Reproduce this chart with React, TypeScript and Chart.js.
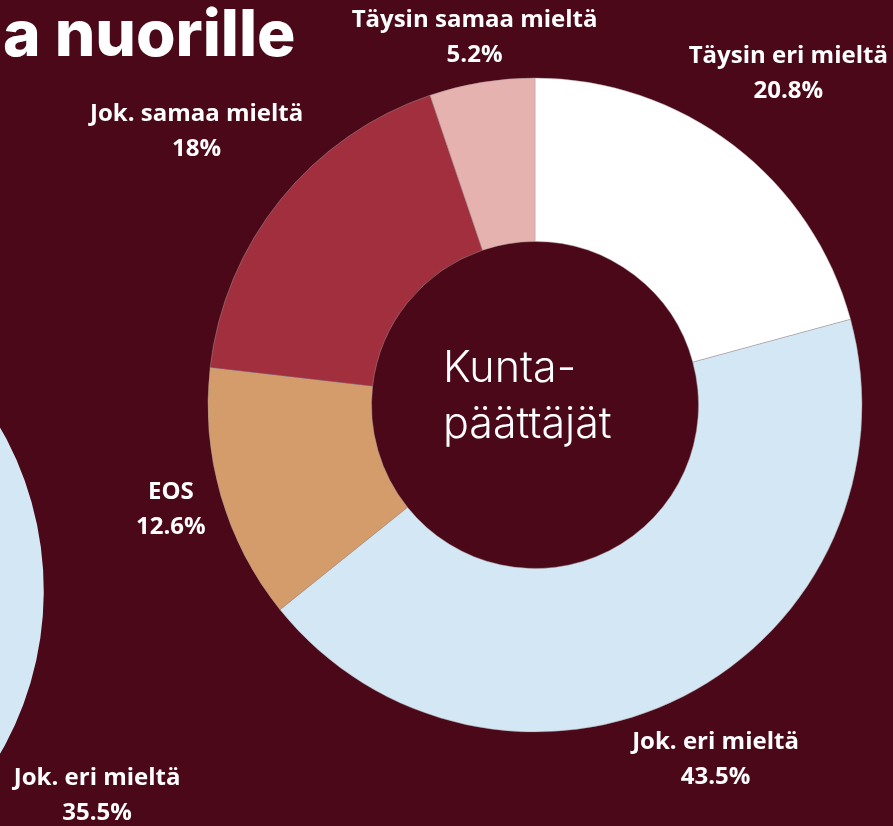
import React, { useEffect, useRef } from 'react';
import { Chart, registerables } from 'chart.js';

Chart.register(...registerables);

// ---- data: main chart (Kuntapäättäjät) ----
const categories = ['Täysin eri mieltä', 'Jok. eri mieltä', 'EOS', 'Jok. samaa mieltä', 'Täysin samaa mieltä'];
const values = [20.8, 43.5, 12.6, 18, 5.2];
const valueLabels = ['20.8%', '43.5%', '12.6%', '18%', '5.2%'];

// ---- data: partially visible chart on the left ----
const leftCategories = ['Jok. eri mieltä'];
const leftValues = [35.5];
const leftValueLabels = ['35.5%'];

// ---- texts ----
const titleText = 'a nuorille';
const centerLines = ['Kunta-', 'päättäjät'];

// ---- styles ----
const BG = '#4a0818';
const colors = ['#ffffff', '#d3e7f4', '#d49c6a', '#a12f3e', '#e5b2af'];
const leftColors = ['#d3e7f4'];
const labelOffsets = [90, 71, 52, 108, 45];
const leftLabelOffsets = [105];

function makeLabelPlugin(valueTexts: string[], offsets: number[]) {
  return {
    id: 'outsideLabels',
    afterDatasetsDraw(chart: any) {
      const { ctx } = chart;
      const meta = chart.getDatasetMeta(0);
      ctx.save();
      ctx.fillStyle = '#ffffff';
      ctx.font = 'bold 24px "Open Sans", Lato, sans-serif';
      ctx.textAlign = 'center';
      ctx.textBaseline = 'middle';
      const lh = 35;
      meta.data.forEach((arc: any, i: number) => {
        const p = arc.getProps(['x', 'y', 'startAngle', 'endAngle', 'outerRadius'], true);
        const mid = (p.startAngle + p.endAngle) / 2;
        const r = p.outerRadius + offsets[i];
        const cx = p.x + Math.cos(mid) * r;
        const cy = p.y + Math.sin(mid) * r;
        ctx.fillText(String(chart.data.labels[i]), cx, cy - lh / 2);
        ctx.fillText(valueTexts[i], cx, cy + lh / 2);
      });
      ctx.restore();
    },
  };
}

export default function App() {
  const mainRef = useRef<HTMLCanvasElement>(null);
  const leftRef = useRef<HTMLCanvasElement>(null);

  useEffect(() => {
    const main = new Chart(mainRef.current as HTMLCanvasElement, {
      type: 'doughnut',
      data: {
        labels: categories,
        datasets: [
          {
            data: values,
            backgroundColor: colors,
            borderColor: 'rgba(170,160,160,0.45)',
            borderWidth: 1,
          },
        ],
      },
      options: {
        animation: false,
        responsive: false,
        devicePixelRatio: 1,
        events: [],
        radius: 327,
        cutout: '50%',
        layout: { padding: { left: 177, right: 0, top: 0, bottom: 16 } },
        plugins: { legend: { display: false }, tooltip: { enabled: false } },
      } as any,
      plugins: [makeLabelPlugin(valueLabels, labelOffsets)],
    });

    const leftCanvas = leftRef.current as HTMLCanvasElement;
    const left = new Chart(leftCanvas, {
      type: 'doughnut',
      data: {
        labels: leftCategories,
        datasets: [
          {
            data: leftValues,
            backgroundColor: leftColors,
            borderWidth: 0,
          },
        ],
      },
      options: {
        animation: false,
        responsive: false,
        devicePixelRatio: 1,
        events: [],
        radius: 327,
        cutout: '50%',
        rotation: 54.4,
        circumference: leftValues[0] * 3.6,
        plugins: { legend: { display: false }, tooltip: { enabled: false } },
      } as any,
      plugins: [makeLabelPlugin(leftValueLabels, leftLabelOffsets)],
    });
    const arc: any = left.getDatasetMeta(0).data[0];
    if (arc) {
      leftCanvas.style.left = `${-283 - arc.x}px`;
      leftCanvas.style.top = `${591 - arc.y}px`;
    }

    return () => {
      main.destroy();
      left.destroy();
    };
  }, []);

  return (
    <div
      style={{
        position: 'fixed',
        left: 0,
        top: 0,
        width: 893,
        height: 826,
        background: BG,
        overflow: 'hidden',
      }}
    >
      <canvas
        ref={leftRef}
        width={1200}
        height={1200}
        style={{ position: 'absolute', left: -700, top: 0, width: 1200, height: 1200 }}
      />
      <canvas
        ref={mainRef}
        width={893}
        height={826}
        style={{ position: 'absolute', left: 0, top: 0, width: 893, height: 826 }}
      />
      <div
        style={{
          position: 'absolute',
          left: 3,
          top: 0,
          color: '#ffffff',
          fontFamily: 'Inter, "Open Sans", sans-serif',
          fontWeight: 800,
          fontSize: 64,
          lineHeight: '66px',
          whiteSpace: 'nowrap',
        }}
      >
        {titleText}
      </div>
      <div
        style={{
          position: 'absolute',
          left: 443,
          top: 338,
          color: '#ffffff',
          fontFamily: 'Inter, "Open Sans", sans-serif',
          fontWeight: 300,
          fontSize: 43,
          lineHeight: '56px',
          whiteSpace: 'nowrap',
        }}
      >
        {centerLines.map((l) => (
          <div key={l}>{l}</div>
        ))}
      </div>
    </div>
  );
}
